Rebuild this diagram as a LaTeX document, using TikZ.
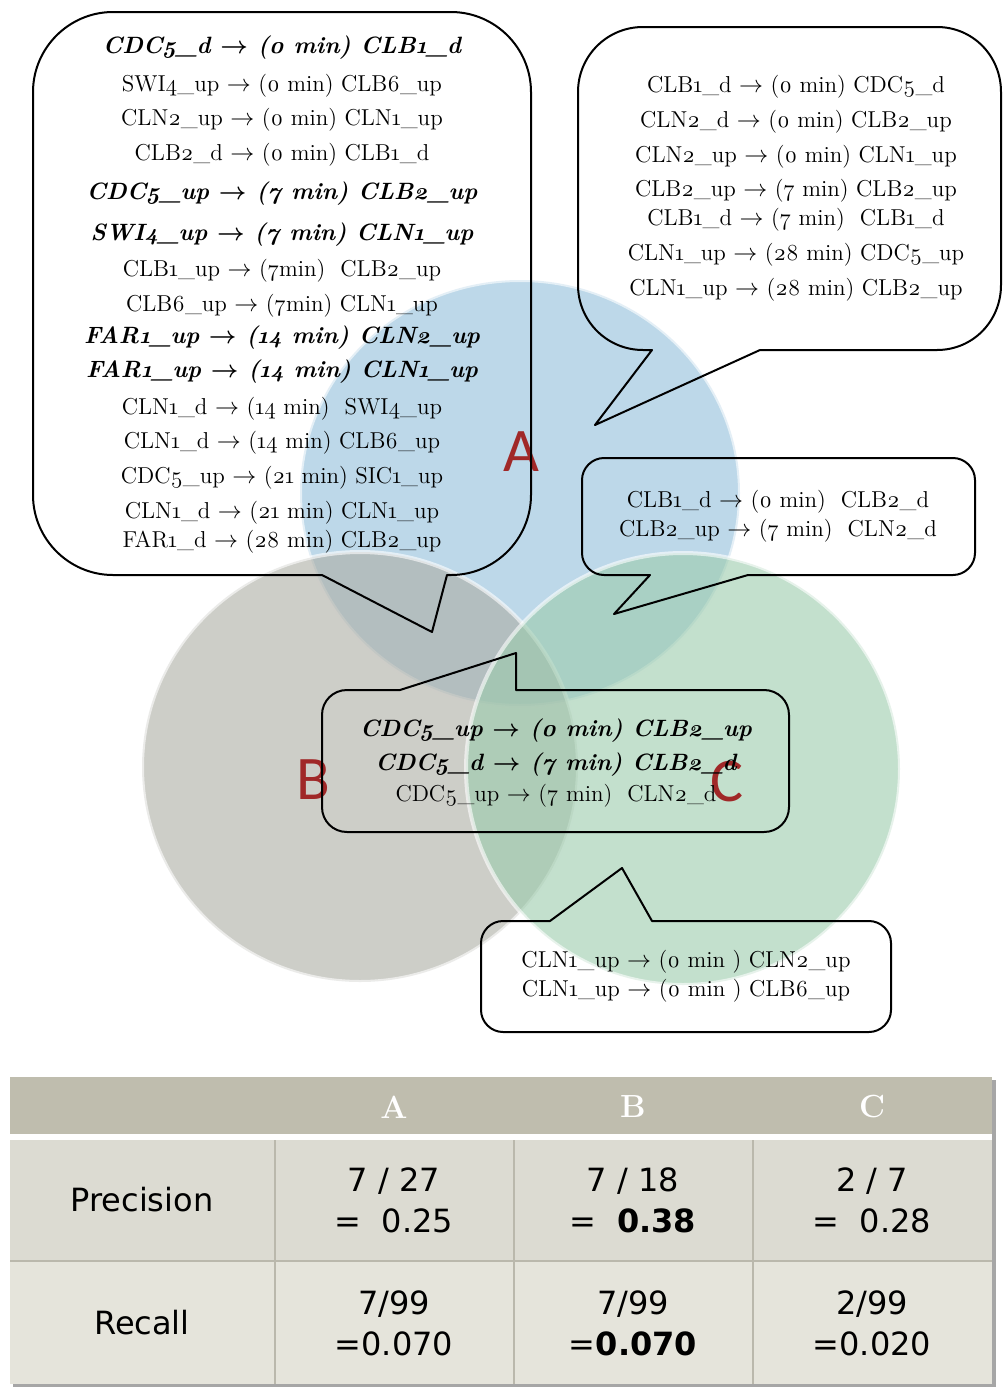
\documentclass[tikz,border=0pt]{standalone}
\usepackage{fontspec}
\setmainfont{Latin Modern Roman}[Numbers=OldStyle]
\newfontfamily\tabfont{DejaVu Sans}
\newfontfamily\vennfont{Carlito}
\newcommand{\gto}{\ensuremath{\rightarrow}}

\definecolor{setA}{RGB}{145,190,218}
\definecolor{setB}{RGB}{172,173,164}
\definecolor{setC}{RGB}{155,203,172}
\definecolor{setred}{RGB}{160,40,40}
\definecolor{tabhead}{RGB}{191,189,174}
\definecolor{tabrowA}{RGB}{220,219,210}
\definecolor{tabrowB}{RGB}{229,228,219}
\definecolor{tabline}{RGB}{186,184,172}

\tikzset{
  venn/.style={fill opacity=0.6, draw=white, draw opacity=0.6, line width=2pt},
  bubble/.style={draw, line width=1pt, line join=round},
  rule/.style={inner sep=0pt, font=\fontsize{11.5}{14}\selectfont},
  keyrule/.style={inner sep=0pt, font=\fontsize{11.8}{14}\selectfont\bfseries\itshape\boldmath},
  setlabel/.style={inner sep=0pt, text=setred, font=\vennfont\fontsize{31}{31}\selectfont},
  headcell/.style={inner sep=0pt, text=white, font=\fontsize{16}{18}\selectfont\bfseries},
  cell/.style={inner sep=0pt, align=center, font=\tabfont\fontsize{16}{20.5}\selectfont}
}

\begin{document}
\begin{tikzpicture}[x=0.5pt, y=-0.5pt]
  \useasboundingbox (0,0) rectangle (1004,1387);

  % the three sets
  \path[venn, fill=setA] (520,493) ellipse [x radius=220, y radius=213];
  \path[venn, fill=setB] (360,767) ellipse [x radius=218, y radius=215];
  \path[venn, fill=setC] (683,769) ellipse [x radius=217, y radius=216];
  \node[setlabel] (labA) at (521,452) {A};
  \node[setlabel] (labB) at (313,780) {B};
  \node[setlabel] (labC) at (727,782) {C};

  % callouts
  \draw[bubble] (322,575) -- (432,632) -- (447,575) -- (451,575)
    .. controls (495,575) and (531,539) .. (531,495) -- (531,92)
    .. controls (531,48) and (495,12) .. (451,12) -- (113,12)
    .. controls (69,12) and (33,48) .. (33,92) -- (33,495)
    .. controls (33,539) and (69,575) .. (113,575) -- cycle;
  \draw[bubble] (760,350) -- (937,350)
    .. controls (973,350) and (1001,321) .. (1001,285) -- (1001,92)
    .. controls (1001,56) and (973,27) .. (937,27) -- (643,27)
    .. controls (607,27) and (578,56) .. (578,92) -- (578,285)
    .. controls (578,321) and (607,350) .. (643,350) -- (652,350) -- (595,425) -- cycle;
  \draw[bubble] (748,575) -- (953,575)
    .. controls (965,575) and (975,565) .. (975,553) -- (975,480)
    .. controls (975,468) and (965,458) .. (953,458) -- (604,458)
    .. controls (592,458) and (582,468) .. (582,480) -- (582,553)
    .. controls (582,565) and (592,575) .. (604,575) -- (650,575) -- (614,614) -- cycle;
  \draw[bubble] (516,690) -- (764,690)
    .. controls (778,690) and (789,701) .. (789,715) -- (789,807)
    .. controls (789,821) and (778,832) .. (764,832) -- (347,832)
    .. controls (333,832) and (322,821) .. (322,807) -- (322,715)
    .. controls (322,701) and (333,690) .. (347,690) -- (400,690) -- (516,653) -- cycle;
  \draw[bubble] (652,921) -- (869,921)
    .. controls (881,921) and (891,931) .. (891,943) -- (891,1010)
    .. controls (891,1022) and (881,1032) .. (869,1032) -- (503,1032)
    .. controls (491,1032) and (481,1022) .. (481,1010) -- (481,943)
    .. controls (481,931) and (491,921) .. (503,921) -- (550,921) -- (622,868) -- cycle;

  % rules of set A only
  \foreach \y/\t [count=\i] in {
      48/CDC5\_d \gto{} (0 min) CLB1\_d,
      194/CDC5\_up \gto{} (7 min) CLB2\_up,
      235/SWI4\_up \gto{} (7 min) CLN1\_up,
      338/FAR1\_up \gto{} (14 min) CLN2\_up,
      372/FAR1\_up \gto{} (14 min) CLN1\_up}
    \node[keyrule] (ak\i) at (282,\y) {\t};
  \foreach \y/\t [count=\i] in {
      86/SWI4\_up \gto{} (0 min) CLB6\_up,
      120/CLN2\_up \gto{} (0 min) CLN1\_up,
      155/CLB2\_d \gto{} (0 min) CLB1\_d,
      271/CLB1\_up \gto{} (7min) \ CLB2\_up,
      306/CLB6\_up \gto{} (7min) CLN1\_up,
      409/CLN1\_d \gto{} (14 min) \ SWI4\_up,
      443/CLN1\_d \gto{} (14 min) CLB6\_up,
      478/CDC5\_up \gto{} (21 min) SIC1\_up,
      513/CLN1\_d \gto{} (21 min) CLN1\_up,
      542/FAR1\_d \gto{} (28 min) CLB2\_up}
    \node[rule] (a\i) at (282,\y) {\t};

  % rules in the top right callout
  \foreach \y/\t [count=\i] in {
      87/CLB1\_d \gto{} (0 min) CDC5\_d,
      122/CLN2\_d \gto{} (0 min) CLB2\_up,
      157/CLN2\_up \gto{} (0 min) CLN1\_up,
      191/CLB2\_up \gto{} (7 min) CLB2\_up,
      220/CLB1\_d \gto{} (7 min) \ CLB1\_d,
      255/CLN1\_up \gto{} (28 min) CDC5\_up,
      290/CLN1\_up \gto{} (28 min) CLB2\_up}
    \node[rule] (r\i) at (796,\y) {\t};

  % rules of A and C
  \node[rule] (ac1) at (778,502) {CLB1\_d \gto{} (0 min) \ CLB2\_d};
  \node[rule] (ac2) at (778,531) {CLB2\_up \gto{} (7 min) \ CLN2\_d};

  % rules of all three sets
  \node[keyrule] (abc1) at (556,731) {CDC5\_up \gto{} (0 min) CLB2\_up};
  \node[keyrule] (abc2) at (556,765) {CDC5\_d \gto{} (7 min) CLB2\_d};
  \node[rule] (abc3) at (556,796) {CDC5\_up \gto{} (7 min) \ CLN2\_d};

  % rules of C only
  \node[rule] (c1) at (686,962) {CLN1\_up \gto{} (0 min ) CLN2\_up};
  \node[rule] (c2) at (686,991) {CLN1\_up \gto{} (0 min ) CLB6\_up};

  % table
  \fill[black!35] (13,1080) rectangle (996,1387);
  \fill[tabhead] (10,1077) rectangle (992,1134);
  \fill[white] (10,1134) rectangle (992,1140);
  \fill[tabrowA] (10,1140) rectangle (992,1261);
  \fill[tabrowB] (10,1261) rectangle (992,1384);
  \draw[tabline, line width=1pt] (275,1140) -- (275,1384)
    (514,1140) -- (514,1384) (753,1140) -- (753,1384)
    (10,1261) -- (992,1261);
  \node[headcell] (hA) at (394,1107) {A};
  \node[headcell] (hB) at (633,1107) {B};
  \node[headcell] (hC) at (872,1107) {C};
  \node[cell] (prec) at (142,1200) {Precision};
  \node[cell] (rec) at (142,1323) {Recall};
  \node[cell] (pA) at (394,1200) {7 / 27\\=\ \ 0.25};
  \node[cell] (pB) at (633,1200) {7 / 18\\=\ \ \textbf{0.38}};
  \node[cell] (pC) at (872,1200) {2 / 7\\=\ \ 0.28};
  \node[cell] (rA) at (394,1323) {7/99\\=0.070};
  \node[cell] (rB) at (633,1323) {7/99\\=\textbf{0.070}};
  \node[cell] (rC) at (872,1323) {2/99\\=0.020};
\end{tikzpicture}
\end{document}
